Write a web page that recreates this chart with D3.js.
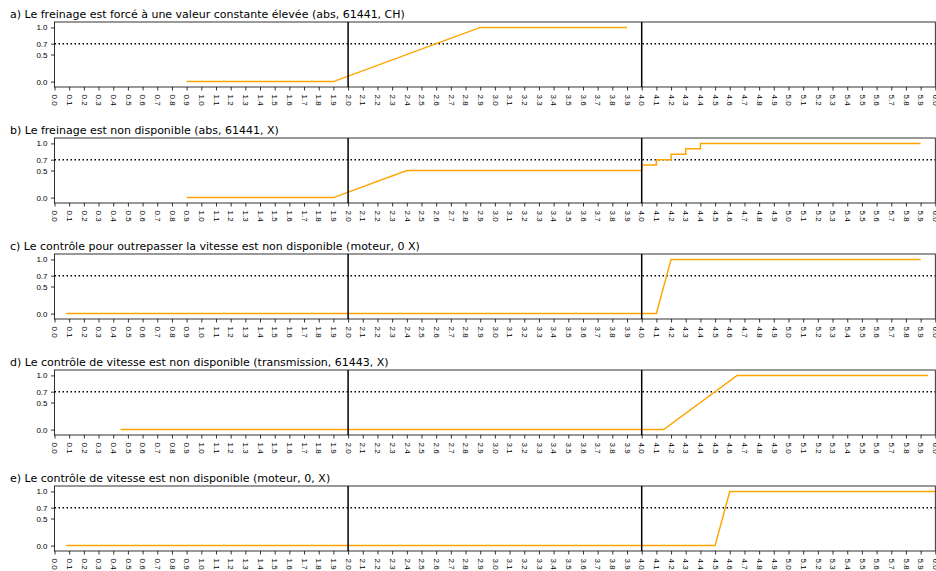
<!DOCTYPE html>
<html><head><meta charset="utf-8">
<script src="https://cdn.jsdelivr.net/npm/d3@7"></script>
<style>body{margin:0;background:#fff}svg{display:block}</style>
</head><body><div id="chart"></div>
<script>
const titles = [
  "a) Le freinage est forcé à une valeur constante élevée (abs, 61441, CH)",
  "b) Le freinage est non disponible (abs, 61441, X)",
  "c) Le contrôle pour outrepasser la vitesse est non disponible (moteur, 0 X)",
  "d) Le contrôle de vitesse est non disponible (transmission, 61443, X)",
  "e) Le contrôle de vitesse est non disponible (moteur, 0, X)"
];
const seriesA = [[0.9,0],[1.9,0],[2.9,1],[3.9,1]];
const seriesB = [[0.9,0],[1.9,0],[2.4,0.5],[4.0,0.5],[4.0,0.6],[4.1,0.6],[4.1,0.7],[4.2,0.7],[4.2,0.8],[4.3,0.8],[4.3,0.9],[4.4,0.9],[4.4,1.0],[5.9,1.0]];
const seriesC = [[0.08,0],[4.1,0],[4.2,1],[5.9,1]];
const seriesD = [[0.45,0],[4.15,0],[4.65,1],[5.95,1]];
const seriesE = [[0.08,0],[4.5,0],[4.6,1],[6.0,1]];
const allSeries = [seriesA, seriesB, seriesC, seriesD, seriesE];
const xTicks = d3.range(0, 61).map(i => i / 10);
const yTicks = [0.0, 0.5, 0.7, 1.0];
const vLines = [2.0, 4.0];
const threshold = 0.7;

const W = 936, H = 571;
const svg = d3.select("#chart").append("svg").attr("width", W).attr("height", H)
  .style("font-family", "DejaVu Sans");
const left = 54.5, right = 935.3, panelH = 65, tops = [22, 138, 254, 370, 486];
const x = d3.scaleLinear().domain([0, 6]).range([left, right]);

allSeries.forEach((data, i) => {
  const top = tops[i];
  const y = d3.scaleLinear().domain([-0.1, 1.1]).range([top + panelH, top]);
  const g = svg.append("g");
  g.append("text").attr("x", 10).attr("y", top - 4.5).attr("font-size", 11).attr("fill", "#000").text(titles[i]);
  g.append("line").attr("x1", left).attr("x2", right).attr("y1", y(threshold)).attr("y2", y(threshold))
    .attr("stroke", "#000").attr("stroke-width", 1.5).attr("stroke-dasharray", "1.5,2.5");
  g.append("path").datum(data)
    .attr("d", d3.line().x(d => x(d[0])).y(d => y(d[1])))
    .attr("fill", "none").attr("stroke", "orange").attr("stroke-width", 1.5);
  vLines.forEach(v => g.append("line").attr("x1", x(v)).attr("x2", x(v)).attr("y1", top).attr("y2", top + panelH)
    .attr("stroke", "#000").attr("stroke-width", 1.5));
  const xa = g.append("g").attr("transform", `translate(0,${top + panelH})`)
    .call(d3.axisBottom(x).tickValues(xTicks).tickFormat(d3.format(".1f")).tickSize(3.5).tickPadding(2));
  xa.selectAll("text").attr("transform", "rotate(90)").attr("text-anchor", "start")
    .attr("x", 7.5).attr("y", 0).attr("dy", "0.35em").attr("font-size", 8).attr("fill", "#000");
  const ya = g.append("g").attr("transform", `translate(${left},0)`)
    .call(d3.axisLeft(y).tickValues(yTicks).tickFormat(d3.format(".1f")).tickSize(3.5).tickPadding(3.5));
  ya.selectAll("text").attr("font-size", 8).attr("fill", "#000");
  [xa, ya].forEach(a => { a.select(".domain").remove(); a.selectAll("line").attr("stroke", "#000").attr("stroke-width", 0.8); });
  g.append("rect").attr("x", left).attr("y", top).attr("width", right - left).attr("height", panelH)
    .attr("fill", "none").attr("stroke", "#000").attr("stroke-width", 0.8);
});
</script></body></html>
